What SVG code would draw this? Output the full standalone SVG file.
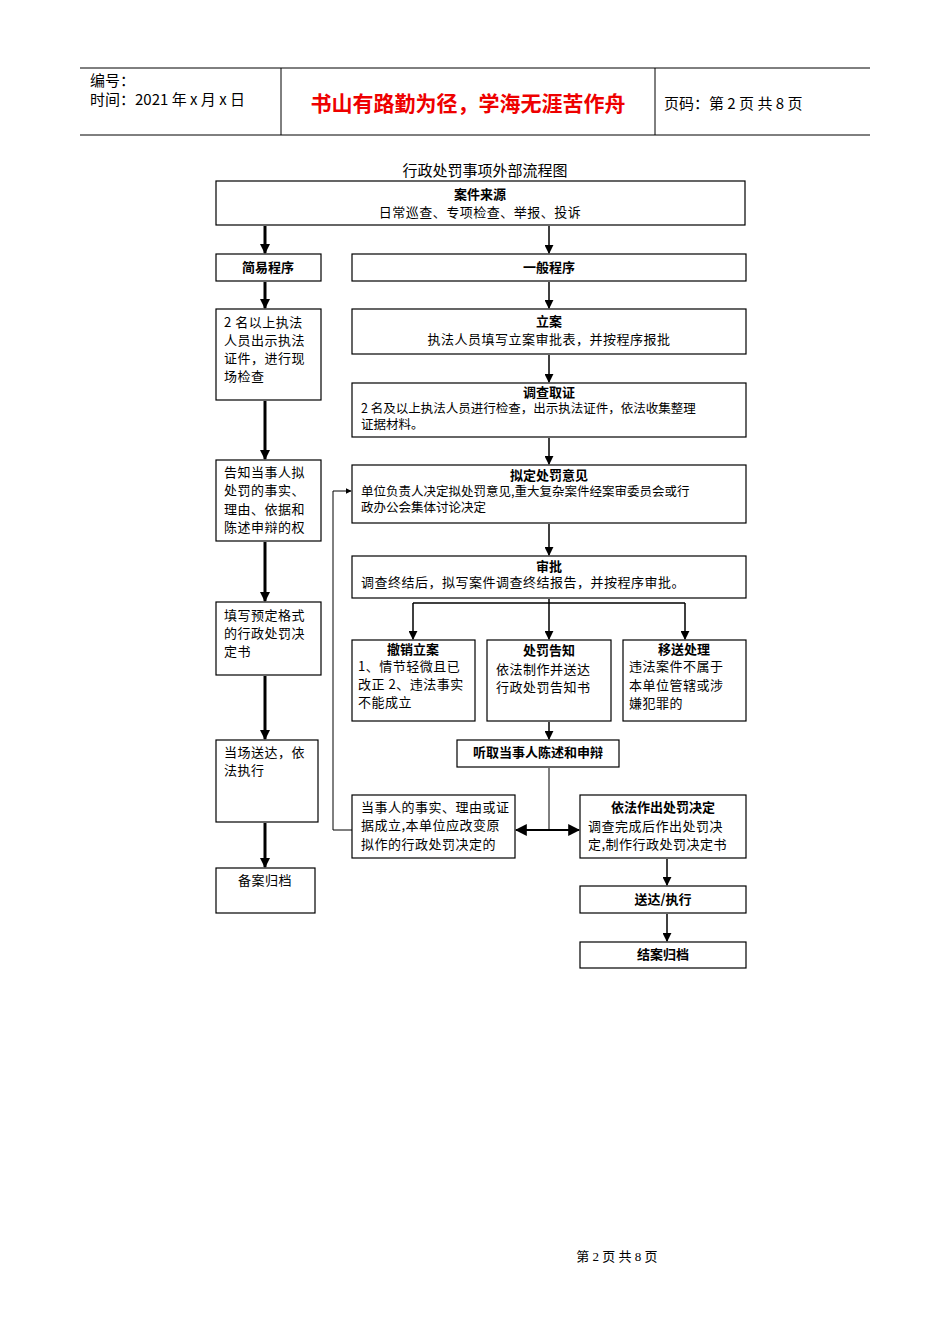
<svg xmlns="http://www.w3.org/2000/svg" width="950" height="1344" viewBox="0 0 950 1344">
<style>
text{font-family:"Noto Sans CJK SC","Liberation Sans",sans-serif;fill:#000}
.b rect{fill:#fff;stroke:#000;stroke-width:1.2}
.t{font-size:13px;letter-spacing:0.5px}
.s{font-size:12.5px}
.h{font-size:13px;font-weight:bold}
.c{text-anchor:middle}
.w{stroke:#000;stroke-width:3;fill:none}
.n{stroke:#000;stroke-width:1.5;fill:none}
</style>
<defs>
<marker id="a" viewBox="0 0 10 10" refX="9" refY="5" markerWidth="3.5" markerHeight="3.5" orient="auto-start-reverse"><path d="M0,0L10,5L0,10z"/></marker>
<marker id="s" viewBox="0 0 10 10" refX="9" refY="5" markerWidth="6" markerHeight="6" orient="auto-start-reverse"><path d="M0,0L10,5L0,10z"/></marker>
</defs>
<g id="header">
<line x1="80" y1="68" x2="870" y2="68" stroke="#000"/>
<line x1="80" y1="135" x2="870" y2="135" stroke="#000"/>
<line x1="281" y1="68" x2="281" y2="135" stroke="#000"/>
<line x1="655" y1="68" x2="655" y2="135" stroke="#000"/>
<text x="90" y="86" font-size="15">编号：</text>
<text x="90" y="105" font-size="15">时间：2021 年 x 月 x 日</text>
<text x="468" y="111" font-size="21" font-weight="bold" class="c" style="fill:#e00">书山有路勤为径，学海无涯苦作舟</text>
<text x="664" y="109" font-size="15">页码：第 2 页  共 8 页</text>
</g>
<text x="485" y="176" font-size="15" class="c">行政处罚事项外部流程图</text>
<g class="b">
<g id="n1"><rect x="216" y="181" width="529" height="44"/><text x="480" y="199" class="h c">案件来源</text><text x="480" y="217" class="t c">日常巡查、专项检查、举报、投诉</text></g>
<g id="n2"><rect x="216" y="254" width="105" height="27"/><text x="268" y="272" class="h c">简易程序</text></g>
<g id="n3"><rect x="352" y="254" width="394" height="27"/><text x="549" y="272" class="h c">一般程序</text></g>
<g id="n4"><rect x="216" y="309" width="105" height="91"/><text class="t" x="224" y="327">2 名以上执法</text><text class="t" x="224" y="345">人员出示执法</text><text class="t" x="224" y="363">证件，进行现</text><text class="t" x="224" y="381">场检查</text></g>
<g id="n5"><rect x="352" y="309" width="394" height="45"/><text x="549" y="326" class="h c">立案</text><text x="549" y="344" class="t c">执法人员填写立案审批表，并按程序报批</text></g>
<g id="n6"><rect x="352" y="383" width="394" height="54"/><text x="549" y="397" class="h c">调查取证</text><text class="s" x="361" y="413">2 名及以上执法人员进行检查，出示执法证件，依法收集整理</text><text class="s" x="361" y="429">证据材料。</text></g>
<g id="n7"><rect x="216" y="460" width="105" height="81"/><text class="t" x="224" y="477">告知当事人拟</text><text class="t" x="224" y="495">处罚的事实、</text><text class="t" x="224" y="514">理由、依据和</text><text class="t" x="224" y="532">陈述申辩的权</text></g>
<g id="n8"><rect x="352" y="465" width="394" height="58"/><text x="549" y="480" class="h c">拟定处罚意见</text><text class="s" x="361" y="496">单位负责人决定拟处罚意见,重大复杂案件经案审委员会或行</text><text class="s" x="361" y="512">政办公会集体讨论决定</text></g>
<g id="n9"><rect x="352" y="556" width="394" height="42"/><text x="549" y="571" class="h c">审批</text><text class="t" x="361" y="587">调查终结后，拟写案件调查终结报告，并按程序审批。</text></g>
<g id="n10"><rect x="216" y="602" width="105" height="73"/><text class="t" x="224" y="620">填写预定格式</text><text class="t" x="224" y="638">的行政处罚决</text><text class="t" x="224" y="656">定书</text></g>
<g id="n11"><rect x="352" y="640" width="123" height="81"/><text x="413" y="654" class="h c">撤销立案</text><text class="t" x="358" y="671">1、情节轻微且已</text><text class="t" x="358" y="689">改正 2、违法事实</text><text class="t" x="358" y="707">不能成立</text></g>
<g id="n12"><rect x="487" y="640" width="124" height="81"/><text x="549" y="655" class="h c">处罚告知</text><text class="t" x="496" y="674">依法制作并送达</text><text class="t" x="496" y="692">行政处罚告知书</text></g>
<g id="n13"><rect x="623" y="640" width="123" height="81"/><text x="684" y="654" class="h c">移送处理</text><text class="t" x="629" y="671">违法案件不属于</text><text class="t" x="629" y="690">本单位管辖或涉</text><text class="t" x="629" y="708">嫌犯罪的</text></g>
<g id="n14"><rect x="216" y="740" width="102" height="82"/><text class="t" x="224" y="757">当场送达，依</text><text class="t" x="224" y="775">法执行</text></g>
<g id="n15"><rect x="457" y="740" width="162" height="27"/><text x="538" y="757" class="h c">听取当事人陈述和申辩</text></g>
<g id="n16"><rect x="352" y="795" width="163" height="63"/><text class="t" x="361" y="812">当事人的事实、理由或证</text><text class="t" x="361" y="830">据成立,本单位应改变原</text><text class="t" x="361" y="849">拟作的行政处罚决定的</text></g>
<g id="n17"><rect x="580" y="795" width="166" height="63"/><text x="663" y="812" class="h c">依法作出处罚决定</text><text class="t" x="588" y="831">调查完成后作出处罚决</text><text class="t" x="588" y="849">定,制作行政处罚决定书</text></g>
<g id="n18"><rect x="216" y="868" width="99" height="45"/><text x="265" y="885" class="t c">备案归档</text></g>
<g id="n19"><rect x="580" y="886" width="166" height="27"/><text x="663" y="904" class="h c">送达/执行</text></g>
<g id="n20"><rect x="580" y="942" width="166" height="26"/><text x="663" y="959" class="h c">结案归档</text></g>
</g>
<g id="connectors">
<path class="w" marker-end="url(#a)" d="M265 226V253"/>
<path class="w" marker-end="url(#a)" d="M265 282V308"/>
<path class="w" marker-end="url(#a)" d="M265 401V459"/>
<path class="w" marker-end="url(#a)" d="M265 542V601"/>
<path class="w" marker-end="url(#a)" d="M265 676V739"/>
<path class="w" marker-end="url(#a)" d="M265 823V867"/>
<path class="n" marker-end="url(#s)" d="M549 226V253"/>
<path class="n" marker-end="url(#s)" d="M549 282V308"/>
<path class="n" marker-end="url(#s)" d="M549 355V382"/>
<path class="n" marker-end="url(#s)" d="M549 438V464"/>
<path class="n" marker-end="url(#s)" d="M549 524V555"/>
<path class="n" marker-end="url(#s)" d="M549 599V639"/>
<path class="n" marker-end="url(#s)" d="M549 722V739"/>
<path class="n" d="M413 603H685"/>
<path class="n" marker-end="url(#s)" d="M413 603V639"/>
<path class="n" marker-end="url(#s)" d="M685 603V639"/>
<path class="n" style="stroke-width:1" d="M549 768V830"/>
<path class="w" style="stroke-width:2" marker-start="url(#s)" marker-end="url(#s)" d="M516 830H579"/>
<path class="n" style="stroke-width:1" marker-end="url(#s)" d="M352 830H333V491H351"/>
<path class="n" marker-end="url(#s)" d="M667 859V885"/>
<path class="n" marker-end="url(#s)" d="M667 914V941"/>
</g>
<text x="617" y="1261" font-size="13" class="c" style="font-family:'Liberation Serif','Noto Sans CJK SC',serif">第 2 页 共 8 页</text>
</svg>
